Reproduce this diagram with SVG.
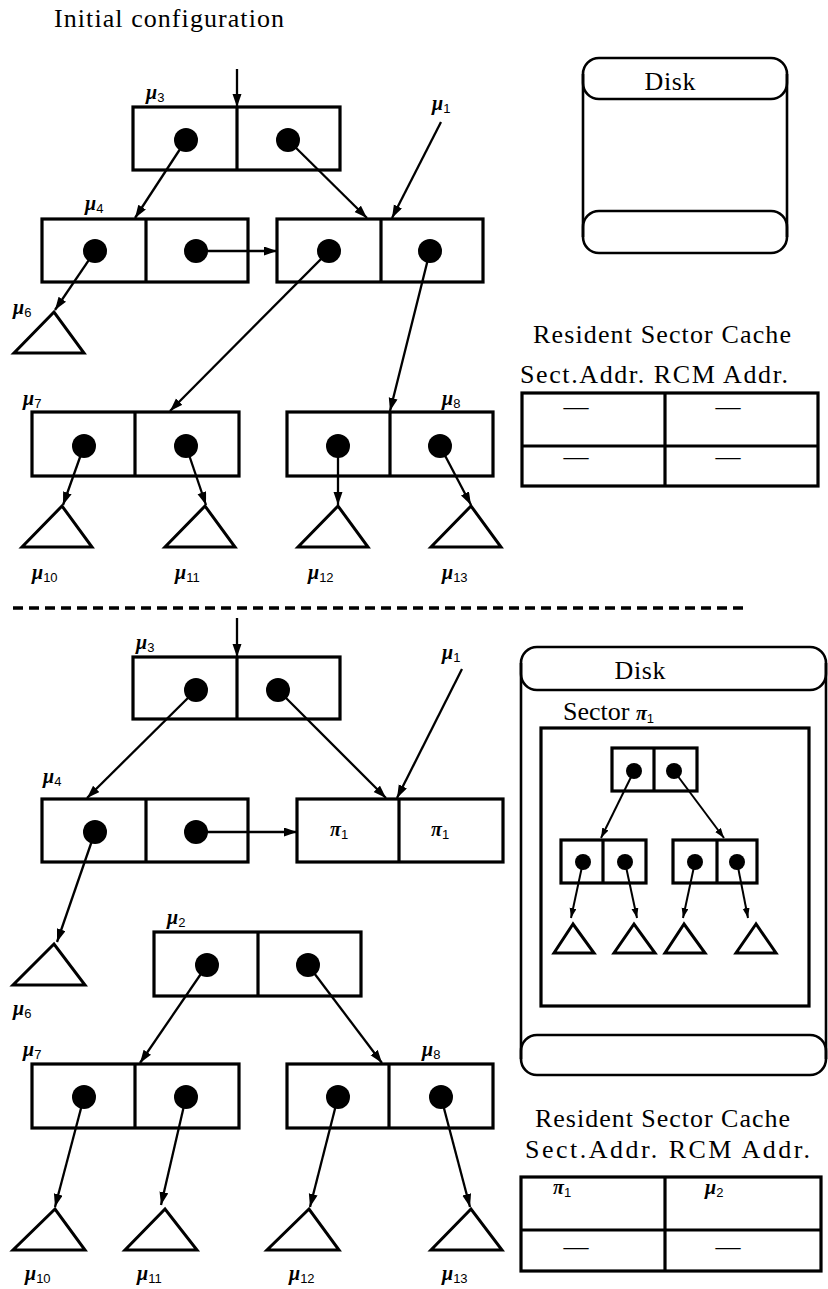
<svg xmlns="http://www.w3.org/2000/svg" width="828" height="1289" viewBox="0 0 828 1289">
<style>
.bg{fill:#fff}
.box{fill:none;stroke:#000;stroke-width:3.2}
.tri{fill:none;stroke:#000;stroke-width:3;stroke-linejoin:miter}
.dot{fill:#000}
.ln{fill:none;stroke:#000;stroke-width:2.3}
.lnS{fill:none;stroke:#000;stroke-width:2}
.disk{fill:none;stroke:#000;stroke-width:2.6}
.t{font-family:"Liberation Serif","Times New Roman",serif;font-size:26px;fill:#000}
.mu{font-family:"Liberation Serif","Times New Roman",serif;font-style:italic;font-weight:bold;font-size:20px;fill:#000}
.sub{font-family:"Liberation Sans",Arial,sans-serif;font-style:normal;font-weight:normal;font-size:13px}
.dash{font-family:"Liberation Serif","Times New Roman",serif;font-size:25px;fill:#000}
</style>
<defs>
<marker id="ah" markerUnits="userSpaceOnUse" markerWidth="14" markerHeight="10" refX="13" refY="4.5" orient="auto"><path d="M0,0 L13,4.5 L0,9 Z" fill="#000"/></marker>
<marker id="ahs" markerUnits="userSpaceOnUse" markerWidth="11" markerHeight="8" refX="10" refY="3.5" orient="auto"><path d="M0,0 L10,3.5 L0,7 Z" fill="#000"/></marker>
</defs>
<rect class="bg" x="0" y="0" width="828" height="1289"/>

<text class="t" x="54" y="27" textLength="230" lengthAdjust="spacing">Initial configuration</text>

<!-- ===== TOP SECTION ===== -->
<g id="top-mu3">
<rect class="box" x="133" y="107" width="207" height="63"/>
<line class="box" x1="237" y1="107" x2="237" y2="170"/>
<circle class="dot" cx="186" cy="140" r="12"/>
<circle class="dot" cx="288" cy="140" r="12"/>
<text class="mu" x="146" y="99">μ<tspan class="sub" dy="3">3</tspan></text>
</g>
<g id="top-mu4">
<rect class="box" x="42" y="219" width="206" height="63"/>
<line class="box" x1="146" y1="219" x2="146" y2="282"/>
<circle class="dot" cx="95" cy="251" r="12"/>
<circle class="dot" cx="196" cy="251" r="12"/>
<text class="mu" x="85" y="210">μ<tspan class="sub" dy="3">4</tspan></text>
</g>
<g id="top-mu1">
<rect class="box" x="277" y="219" width="206" height="63"/>
<line class="box" x1="381" y1="219" x2="381" y2="282"/>
<circle class="dot" cx="329" cy="251" r="12"/>
<circle class="dot" cx="430" cy="251" r="12"/>
<text class="mu" x="432" y="110">μ<tspan class="sub" dy="3">1</tspan></text>
</g>
<g id="top-mu6">
<polygon class="tri" points="54,312 14,353 84,353"/>
<text class="mu" x="13" y="314">μ<tspan class="sub" dy="3">6</tspan></text>
</g>
<g id="top-mu7">
<rect class="box" x="32" y="412" width="207" height="64"/>
<line class="box" x1="135" y1="412" x2="135" y2="476"/>
<circle class="dot" cx="84" cy="446" r="12"/>
<circle class="dot" cx="186" cy="446" r="12"/>
<text class="mu" x="23" y="405">μ<tspan class="sub" dy="3">7</tspan></text>
</g>
<g id="top-mu8">
<rect class="box" x="287" y="412" width="206" height="64"/>
<line class="box" x1="390" y1="412" x2="390" y2="476"/>
<circle class="dot" cx="338" cy="446" r="12"/>
<circle class="dot" cx="440" cy="446" r="12"/>
<text class="mu" x="442" y="405">μ<tspan class="sub" dy="3">8</tspan></text>
</g>
<g id="top-mu10">
<polygon class="tri" points="62,506 22,547 92,547"/>
<text class="mu" x="32" y="579">μ<tspan class="sub" dy="3">10</tspan></text>
</g>
<g id="top-mu11">
<polygon class="tri" points="205,506 165,547 235,547"/>
<text class="mu" x="175" y="579">μ<tspan class="sub" dy="3">11</tspan></text>
</g>
<g id="top-mu12">
<polygon class="tri" points="338,506 298,547 368,547"/>
<text class="mu" x="308" y="579">μ<tspan class="sub" dy="3">12</tspan></text>
</g>
<g id="top-mu13">
<polygon class="tri" points="471,506 431,547 501,547"/>
<text class="mu" x="442" y="579">μ<tspan class="sub" dy="3">13</tspan></text>
</g>

<g id="top-disk">
<rect class="disk" x="583" y="58" width="204" height="41" rx="16" ry="16"/>
<rect class="disk" x="583" y="211" width="204" height="42" rx="16" ry="16"/>
<line class="disk" x1="583" y1="74" x2="583" y2="237"/>
<line class="disk" x1="787" y1="74" x2="787" y2="237"/>
<text class="t" x="670" y="90" text-anchor="middle" textLength="51" lengthAdjust="spacing">Disk</text>
</g>

<g id="top-cache">
<text class="t" x="533" y="343" textLength="258" lengthAdjust="spacing">Resident Sector Cache</text>
<text class="t" x="520" y="383" textLength="268" lengthAdjust="spacing">Sect.Addr. RCM Addr.</text>
<rect class="box" x="522" y="393" width="296" height="93"/>
<line class="box" x1="665" y1="393" x2="665" y2="486"/>
<line class="box" x1="522" y1="446" x2="818" y2="446"/>
<text class="dash" x="576" y="415" text-anchor="middle">—</text>
<text class="dash" x="728" y="415" text-anchor="middle">—</text>
<text class="dash" x="576" y="465" text-anchor="middle">—</text>
<text class="dash" x="728" y="465" text-anchor="middle">—</text>
</g>

<line x1="13" y1="608" x2="748" y2="608" stroke="#000" stroke-width="3.5" stroke-dasharray="10,6"/>

<!-- ===== BOTTOM SECTION ===== -->
<g id="bot-mu3">
<rect class="box" x="133" y="657" width="207" height="62"/>
<line class="box" x1="237" y1="657" x2="237" y2="719"/>
<circle class="dot" cx="196" cy="690" r="12"/>
<circle class="dot" cx="278" cy="690" r="12"/>
<text class="mu" x="136" y="649">μ<tspan class="sub" dy="3">3</tspan></text>
</g>
<g id="bot-mu1-label">
<text class="mu" x="442" y="659">μ<tspan class="sub" dy="3">1</tspan></text>
</g>
<g id="bot-mu4">
<rect class="box" x="42" y="799" width="206" height="63"/>
<line class="box" x1="146" y1="799" x2="146" y2="862"/>
<circle class="dot" cx="95" cy="832" r="12"/>
<circle class="dot" cx="196" cy="832" r="12"/>
<text class="mu" x="43" y="783">μ<tspan class="sub" dy="3">4</tspan></text>
</g>
<g id="bot-pi1">
<rect class="box" x="297" y="799" width="206" height="63"/>
<line class="box" x1="399" y1="799" x2="399" y2="862"/>
<text class="mu" x="330" y="836">π<tspan class="sub" dy="3">1</tspan></text>
<text class="mu" x="431" y="836">π<tspan class="sub" dy="3">1</tspan></text>
</g>
<g id="bot-mu6">
<polygon class="tri" points="54,944 13,985 85,985"/>
<text class="mu" x="13" y="1015">μ<tspan class="sub" dy="3">6</tspan></text>
</g>
<g id="bot-mu2">
<rect class="box" x="154" y="932" width="207" height="64"/>
<line class="box" x1="258" y1="932" x2="258" y2="996"/>
<circle class="dot" cx="207" cy="965" r="12"/>
<circle class="dot" cx="308" cy="965" r="12"/>
<text class="mu" x="167" y="924">μ<tspan class="sub" dy="3">2</tspan></text>
</g>
<g id="bot-mu7">
<rect class="box" x="32" y="1064" width="207" height="64"/>
<line class="box" x1="135" y1="1064" x2="135" y2="1128"/>
<circle class="dot" cx="84" cy="1097" r="12"/>
<circle class="dot" cx="186" cy="1097" r="12"/>
<text class="mu" x="23" y="1056">μ<tspan class="sub" dy="3">7</tspan></text>
</g>
<g id="bot-mu8">
<rect class="box" x="287" y="1064" width="206" height="64"/>
<line class="box" x1="389" y1="1064" x2="389" y2="1128"/>
<circle class="dot" cx="338" cy="1097" r="12"/>
<circle class="dot" cx="441" cy="1097" r="12"/>
<text class="mu" x="422" y="1056">μ<tspan class="sub" dy="3">8</tspan></text>
</g>
<g id="bot-mu10">
<polygon class="tri" points="55,1209 13,1250 85,1250"/>
<text class="mu" x="25" y="1280">μ<tspan class="sub" dy="3">10</tspan></text>
</g>
<g id="bot-mu11">
<polygon class="tri" points="165,1209 125,1250 197,1250"/>
<text class="mu" x="137" y="1280">μ<tspan class="sub" dy="3">11</tspan></text>
</g>
<g id="bot-mu12">
<polygon class="tri" points="309,1209 267,1250 339,1250"/>
<text class="mu" x="289" y="1280">μ<tspan class="sub" dy="3">12</tspan></text>
</g>
<g id="bot-mu13">
<polygon class="tri" points="471,1209 431,1250 502,1250"/>
<text class="mu" x="442" y="1280">μ<tspan class="sub" dy="3">13</tspan></text>
</g>

<g id="bot-disk">
<rect class="disk" x="521" y="647" width="305" height="43" rx="16" ry="16"/>
<rect class="disk" x="521" y="1035" width="305" height="40" rx="16" ry="16"/>
<line class="disk" x1="521" y1="663" x2="521" y2="1059"/>
<line class="disk" x1="826" y1="663" x2="826" y2="1059"/>
<text class="t" x="640" y="679" text-anchor="middle" textLength="51" lengthAdjust="spacing">Disk</text>
</g>
<g id="sector">
<text class="t" x="563" y="720">Sector <tspan font-style="italic" font-weight="bold" font-size="20">π</tspan><tspan class="sub" dy="3">1</tspan></text>
<rect class="box" x="541" y="728" width="268" height="278"/>
<rect class="box" x="612" y="748" width="85" height="43"/>
<line class="box" x1="654" y1="748" x2="654" y2="791"/>
<circle class="dot" cx="634" cy="771" r="8"/>
<circle class="dot" cx="674" cy="771" r="8"/>
<rect class="box" x="561" y="840" width="85" height="43"/>
<line class="box" x1="603" y1="840" x2="603" y2="883"/>
<circle class="dot" cx="583" cy="862" r="8"/>
<circle class="dot" cx="625" cy="862" r="8"/>
<rect class="box" x="673" y="840" width="84" height="43"/>
<line class="box" x1="717" y1="840" x2="717" y2="883"/>
<circle class="dot" cx="695" cy="862" r="8"/>
<circle class="dot" cx="737" cy="862" r="8"/>
<polygon class="tri" points="573,924 554,953 594,953"/>
<polygon class="tri" points="634,924 614,953 655,953"/>
<polygon class="tri" points="684,924 665,953 705,953"/>
<polygon class="tri" points="756,924 736,953 776,953"/>
</g>

<g id="bot-cache">
<text class="t" x="535" y="1127" textLength="255" lengthAdjust="spacing">Resident Sector Cache</text>
<text class="t" x="525" y="1158" textLength="285" lengthAdjust="spacing">Sect.Addr. RCM Addr.</text>
<rect class="box" x="521" y="1177" width="300" height="94"/>
<line class="box" x1="665" y1="1177" x2="665" y2="1271"/>
<line class="box" x1="521" y1="1230" x2="821" y2="1230"/>
<text class="mu" x="553" y="1194">π<tspan class="sub" dy="3">1</tspan></text>
<text class="mu" x="705" y="1194">μ<tspan class="sub" dy="3">2</tspan></text>
<text class="dash" x="576" y="1255" text-anchor="middle">—</text>
<text class="dash" x="728" y="1255" text-anchor="middle">—</text>
</g>

<g id="connectors">
<line class="ln" x1="237" y1="69" x2="237" y2="107" marker-end="url(#ah)"/>
<line class="ln" x1="186" y1="140" x2="135" y2="218" marker-end="url(#ah)"/>
<line class="ln" x1="288" y1="140" x2="367" y2="218" marker-end="url(#ah)"/>
<line class="ln" x1="441" y1="122" x2="392" y2="218" marker-end="url(#ah)"/>
<line class="ln" x1="196" y1="251" x2="277" y2="251" stroke-width="3" marker-end="url(#ah)"/>
<line class="ln" x1="95" y1="251" x2="55" y2="310" marker-end="url(#ah)"/>
<line class="ln" x1="329" y1="251" x2="170" y2="411" marker-end="url(#ah)"/>
<line class="ln" x1="430" y1="251" x2="390" y2="411" marker-end="url(#ah)"/>
<line class="ln" x1="84" y1="446" x2="63" y2="505" marker-end="url(#ah)"/>
<line class="ln" x1="186" y1="446" x2="206" y2="505" marker-end="url(#ah)"/>
<line class="ln" x1="338" y1="446" x2="338" y2="505" stroke-width="3" marker-end="url(#ah)"/>
<line class="ln" x1="440" y1="446" x2="471" y2="505" marker-end="url(#ah)"/>

<line class="ln" x1="237" y1="618" x2="237" y2="657" marker-end="url(#ah)"/>
<line class="ln" x1="196" y1="690" x2="87" y2="798" marker-end="url(#ah)"/>
<line class="ln" x1="278" y1="690" x2="386" y2="798" marker-end="url(#ah)"/>
<line class="ln" x1="462" y1="669" x2="397" y2="798" marker-end="url(#ah)"/>
<line class="ln" x1="196" y1="832" x2="297" y2="832" stroke-width="3" marker-end="url(#ah)"/>
<line class="ln" x1="95" y1="832" x2="57" y2="942" marker-end="url(#ah)"/>
<line class="ln" x1="207" y1="965" x2="140" y2="1063" marker-end="url(#ah)"/>
<line class="ln" x1="308" y1="965" x2="382" y2="1063" marker-end="url(#ah)"/>
<line class="ln" x1="84" y1="1097" x2="55" y2="1207" marker-end="url(#ah)"/>
<line class="ln" x1="186" y1="1097" x2="161" y2="1205" marker-end="url(#ah)"/>
<line class="ln" x1="338" y1="1097" x2="310" y2="1207" marker-end="url(#ah)"/>
<line class="ln" x1="441" y1="1097" x2="470" y2="1207" marker-end="url(#ah)"/>

<line class="lnS" x1="634" y1="771" x2="601" y2="838" marker-end="url(#ahs)"/>
<line class="lnS" x1="674" y1="771" x2="724" y2="838" marker-end="url(#ahs)"/>
<line class="lnS" x1="583" y1="862" x2="571" y2="918" marker-end="url(#ahs)"/>
<line class="lnS" x1="625" y1="862" x2="637" y2="918" marker-end="url(#ahs)"/>
<line class="lnS" x1="695" y1="862" x2="683" y2="918" marker-end="url(#ahs)"/>
<line class="lnS" x1="737" y1="862" x2="748" y2="918" marker-end="url(#ahs)"/>
</g>
</svg>
